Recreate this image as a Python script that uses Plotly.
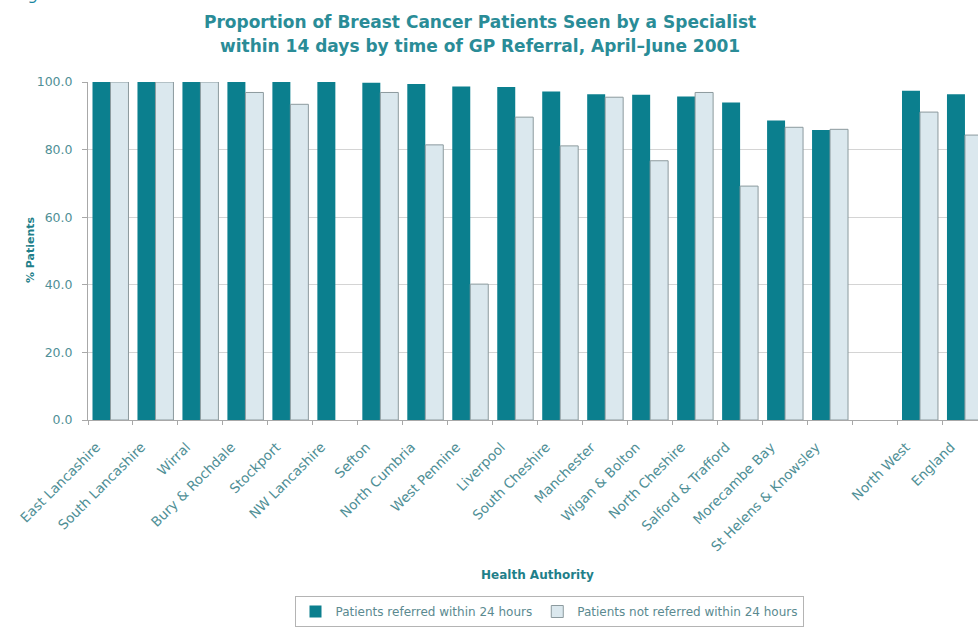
import plotly.graph_objects as go

# health authorities, a blank spacer slot, then the regional / national figures
authorities = [
    "East Lancashire", "South Lancashire", "Wirral", "Bury & Rochdale",
    "Stockport", "NW Lancashire", "Sefton", "North Cumbria", "West Pennine",
    "Liverpool", "South Cheshire", "Manchester", "Wigan & Bolton",
    "North Cheshire", "Salford & Trafford", "Morecambe Bay",
    "St Helens & Knowsley", " ", "North West", "England",
]
referred_24h = [
    100.0, 100.0, 100.0, 100.0, 100.0, 100.0, 99.8, 99.4, 98.7,
    98.5, 97.2, 96.4, 96.2, 95.7, 93.9, 88.6, 85.8, None, 97.4, 96.4,
]
not_referred_24h = [
    100.0, 100.0, 100.0, 96.9, 93.4, None, 96.9, 81.4, 40.2,
    89.6, 81.1, 95.5, 76.7, 96.9, 69.2, 86.6, 86.0, None, 91.1, 84.3,
]

TEAL = "#0b7f8e"
TEXT = "#2a8c97"
TICK = "#4f8f96"
FONT = "DejaVu Sans, Verdana, sans-serif"

# plot area in pixels: x 88..978, y 82..420
L, T, B = 88, 82, 420
W = 978 - L
H = B - T


def px(x):
    return (x - L) / W


def py(y):
    return (B - y) / H


fig = go.Figure()
fig.add_trace(go.Bar(
    x=authorities, y=referred_24h,
    name="Patients referred within 24 hours",
    marker=dict(color=TEAL, line=dict(width=0)),
))
fig.add_trace(go.Bar(
    x=authorities, y=not_referred_24h,
    name="Patients not referred within 24 hours",
    marker=dict(color="#dbe8ee", line=dict(color="#8c9a9e", width=1)),
))

fig.update_layout(
    width=978, height=629,
    margin=dict(l=L, r=0, t=T, b=629 - B, autoexpand=False),
    paper_bgcolor="white", plot_bgcolor="white",
    font=dict(family=FONT, color=TICK),
    barmode="group", bargap=0.2, bargroupgap=0,
    showlegend=True,
    legend=dict(
        orientation="h", x=px(549), xanchor="center", y=py(596), yanchor="top",
        bordercolor="#b4b4b4", borderwidth=1, bgcolor="white",
        font=dict(size=12, color="#5b8a90"),
        itemwidth=30, tracegroupgap=0,
    ),
)
fig.update_xaxes(
    type="category", range=[-0.5, 19.29], automargin=False,
    tickangle=-45, tickfont=dict(size=13.5, color=TICK),
    ticklabelstandoff=13, ticklabelshift=-14,
    showline=True, linecolor="#a8a8a8", linewidth=1,
    ticks="outside", tickson="boundaries", ticklen=4, tickcolor="#a8a8a8",
    showgrid=False,
)
fig.update_yaxes(
    range=[0, 100], tickvals=[0, 20, 40, 60, 80, 100], tickformat=".1f",
    automargin=False,
    tickfont=dict(size=12.5, color=TICK), ticklabelstandoff=7,
    showline=True, linecolor="#a8a8a8", linewidth=1,
    ticks="outside", ticklen=5, tickcolor="#a8a8a8",
    showgrid=True, gridcolor="#d4d4d4", gridwidth=1, zeroline=False,
)

# titles placed as annotations so they sit where the original has them
fig.add_annotation(
    text="<b>Proportion of Breast Cancer Patients Seen by a Specialist</b>",
    xref="paper", yref="paper", x=px(480), y=py(22),
    xanchor="center", yanchor="middle", showarrow=False,
    font=dict(size=17, color=TEXT),
)
fig.add_annotation(
    text="<b>within 14 days by time of GP Referral, April\u2013June 2001</b>",
    xref="paper", yref="paper", x=px(480), y=py(46),
    xanchor="center", yanchor="middle", showarrow=False,
    font=dict(size=17, color=TEXT),
)
fig.add_annotation(
    text="<b>Health Authority</b>",
    xref="paper", yref="paper", x=px(537), y=py(575),
    xanchor="center", yanchor="middle", showarrow=False,
    font=dict(size=12, color="#1f7f8a"),
)
fig.add_annotation(
    text="<b>% Patients</b>",
    xref="paper", yref="paper", x=px(30), y=py(250),
    xanchor="center", yanchor="middle", showarrow=False, textangle=-90,
    font=dict(size=11, color="#1f7f8a"),
)
# caption cut off by the top edge of the original scan
fig.add_annotation(
    text="<i>Figure 5</i>",
    xref="paper", yref="paper", x=px(13), y=py(6),
    xanchor="left", yanchor="bottom", showarrow=False,
    font=dict(size=16, color="#1a86a0"),
)

# drop the page's default body margin so the figure fills the window
fig.write_html(
    "out.html",
    config={"displayModeBar": False},
    post_script="document.body.style.margin='0';",
)
